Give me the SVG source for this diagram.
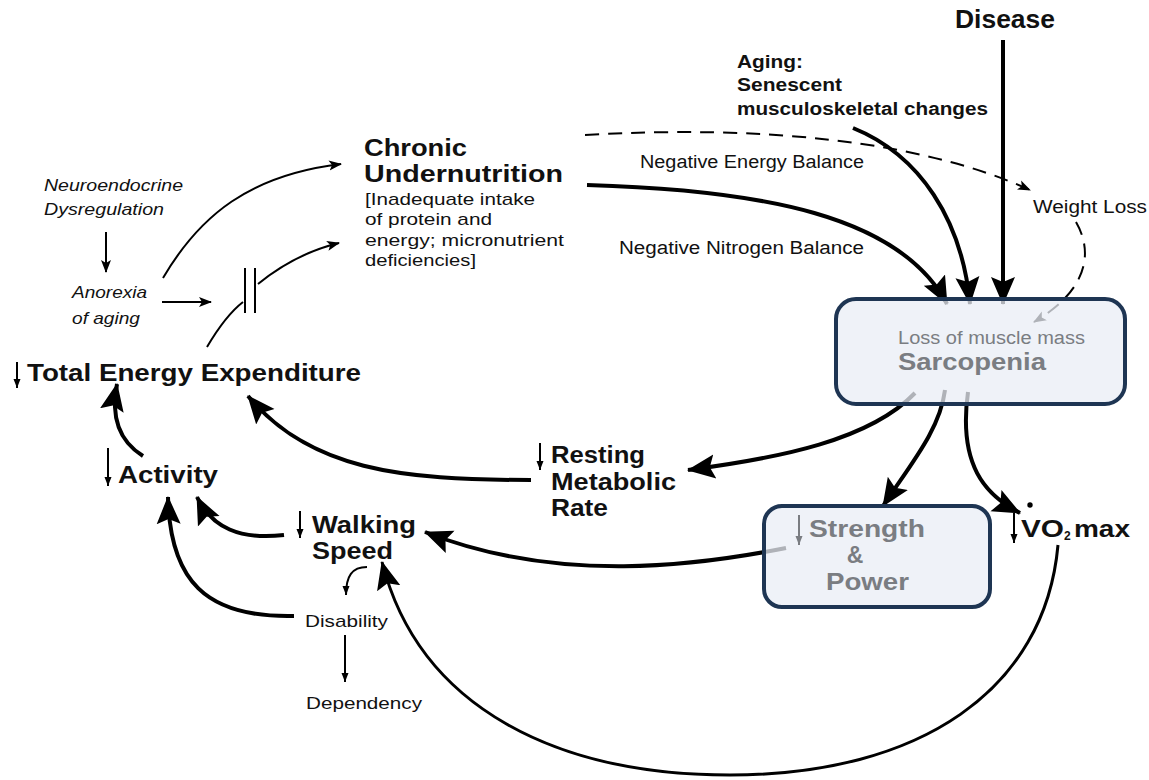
<svg xmlns="http://www.w3.org/2000/svg" width="1149" height="780" viewBox="0 0 1149 780">
<style>
.t{font-family:"Liberation Sans",Arial,sans-serif;fill:#111}
.b{font-weight:bold}
.i{font-style:italic}
.g{fill:#7a7d82}
.c{fill:none;stroke:#000;stroke-linecap:butt}
.w4{stroke-width:4}
.w3{stroke-width:3}
.w2{stroke-width:2}
.d{stroke-dasharray:14 9}
.box{fill:#e9eef5;fill-opacity:0.75;stroke:#1e3553;stroke-width:4}
</style>
<defs>
<marker id="big" markerUnits="userSpaceOnUse" markerWidth="30" markerHeight="30" viewBox="0 0 30 30" refX="27" refY="15" orient="auto"><path d="M0,3 L28,15 L0,27 L5,15 Z" fill="#000"/></marker>
<marker id="sm" markerUnits="userSpaceOnUse" markerWidth="14" markerHeight="14" viewBox="0 0 14 14" refX="12" refY="7" orient="auto"><path d="M0,2 L13,7 L0,12 L3,7 Z" fill="#000"/></marker>
<marker id="tiny" markerUnits="userSpaceOnUse" markerWidth="10" markerHeight="10" viewBox="0 0 10 10" refX="9" refY="5" orient="auto"><path d="M0,1.5 L9,5 L0,8.5 Z" fill="#000"/></marker>
<marker id="tinyg" markerUnits="userSpaceOnUse" markerWidth="10" markerHeight="10" viewBox="0 0 10 10" refX="9" refY="5" orient="auto"><path d="M0,1.5 L9,5 L0,8.5 Z" fill="#7a7d82"/></marker>
</defs>

<g id="connectors">
<path class="c w2" d="M106,232 L106,272" marker-end="url(#sm)"/>
<path class="c w2" d="M162,302 L211,302" marker-end="url(#sm)"/>
<path class="c w2" d="M163,278 C200,215 250,175 341,164" marker-end="url(#sm)"/>
<path class="c w2" d="M207,347 C220,325 230,312 243,302"/>
<path class="c w2" d="M258,284 C285,262 310,250 339,243" marker-end="url(#sm)"/>
<path class="c w2" d="M245,268 L245,313 M255,268 L255,313"/>
<path class="c w4" d="M587,185 C760,190 900,215 947,304" marker-end="url(#big)"/>
<path class="c w4" d="M853,128 C920,155 962,220 970,304" marker-end="url(#big)"/>
<path class="c w4" d="M1003,40 L1003,304" marker-end="url(#big)"/>
<path class="c w2 d" d="M585,135 C760,125 920,140 1030,190" marker-end="url(#sm)"/>
<path class="c w2 d" d="M1076,222 C1095,255 1085,292 1034,322" marker-end="url(#sm)"/>
<path class="c w4" d="M915,393 C870,440 780,458 688,470" marker-end="url(#big)"/>
<path class="c w4" d="M945,390 C940,430 910,465 883,506" marker-end="url(#big)"/>
<path class="c w4" d="M968,392 C958,465 985,495 1020,513" marker-end="url(#big)"/>
<path class="c w4" d="M786,548 C700,565 560,585 425,532" marker-end="url(#big)"/>
<path class="c w4" d="M531,480 C400,480 310,470 248,396" marker-end="url(#big)"/>
<path class="c w4" d="M143,456 C122,443 110,420 117,384" marker-end="url(#big)"/>
<path class="c w4" d="M284,535 C240,540 212,528 197,497" marker-end="url(#big)"/>
<path class="c w4" d="M294,616 C205,618 170,580 168,497" marker-end="url(#big)"/>
<path class="c w2" d="M367,567 C352,567 346,576 346,595" marker-end="url(#tiny)"/>
<path class="c w2" d="M345,635 L345,682" marker-end="url(#tiny)"/>
<path class="c w3" d="M1058,545 C1045,690 920,775 730,775 C560,775 420,710 382,562" marker-end="url(#big)"/>
</g>

<g id="disease"><text class="t b" x="955" y="28" font-size="25" textLength="100" lengthAdjust="spacingAndGlyphs">Disease</text></g>
<g id="aging">
<text class="t b" font-size="18"><tspan x="737" y="68" textLength="66" lengthAdjust="spacingAndGlyphs">Aging:</tspan><tspan x="737" y="91" textLength="105" lengthAdjust="spacingAndGlyphs">Senescent</tspan><tspan x="737" y="115" textLength="251" lengthAdjust="spacingAndGlyphs">musculoskeletal changes</tspan></text>
</g>
<g id="chronic">
<text class="t" font-size="17"><tspan class="b" font-size="23" x="364" y="156" textLength="103" lengthAdjust="spacingAndGlyphs">Chronic</tspan><tspan class="b" font-size="23" x="364" y="182" textLength="199" lengthAdjust="spacingAndGlyphs">Undernutrition</tspan><tspan x="365" y="205" textLength="170" lengthAdjust="spacingAndGlyphs">[Inadequate intake</tspan><tspan x="365" y="225" textLength="127" lengthAdjust="spacingAndGlyphs">of protein and</tspan><tspan x="365" y="246" textLength="199" lengthAdjust="spacingAndGlyphs">energy; micronutrient</tspan><tspan x="365" y="266" textLength="111" lengthAdjust="spacingAndGlyphs">deficiencies]</tspan></text>
</g>
<g id="neb"><text class="t" x="640" y="168" font-size="18" textLength="224" lengthAdjust="spacingAndGlyphs">Negative Energy Balance</text></g>
<g id="nnb"><text class="t" x="619" y="254" font-size="18" textLength="245" lengthAdjust="spacingAndGlyphs">Negative Nitrogen Balance</text></g>
<g id="weightloss"><text class="t" x="1033" y="213" font-size="18" textLength="114" lengthAdjust="spacingAndGlyphs">Weight Loss</text></g>
<g id="neuro">
<text class="t i" font-size="17"><tspan x="44" y="191" textLength="139" lengthAdjust="spacingAndGlyphs">Neuroendocrine</tspan><tspan x="44" y="215" textLength="120" lengthAdjust="spacingAndGlyphs">Dysregulation</tspan></text>
</g>
<g id="anorexia">
<text class="t i" font-size="17"><tspan x="72" y="298" textLength="75" lengthAdjust="spacingAndGlyphs">Anorexia</tspan><tspan x="72" y="324" textLength="68" lengthAdjust="spacingAndGlyphs">of aging</tspan></text>
</g>
<g id="tee">
<path class="c w2" d="M17,362 L17,388" marker-end="url(#tiny)"/>
<text class="t b" x="27" y="381" font-size="24" textLength="334" lengthAdjust="spacingAndGlyphs">Total Energy Expenditure</text>
</g>
<g id="activity">
<path class="c w2" d="M108,448 L108,486" marker-end="url(#tiny)"/>
<text class="t b" x="118" y="483" font-size="24" textLength="100" lengthAdjust="spacingAndGlyphs">Activity</text>
</g>
<g id="rmr">
<path class="c w2" d="M540,443 L540,470" marker-end="url(#tiny)"/>
<text class="t b" font-size="23"><tspan x="551" y="463" textLength="94" lengthAdjust="spacingAndGlyphs">Resting</tspan><tspan x="551" y="490" textLength="125" lengthAdjust="spacingAndGlyphs">Metabolic</tspan><tspan x="551" y="516" textLength="57" lengthAdjust="spacingAndGlyphs">Rate</tspan></text>
</g>
<g id="walking">
<path class="c w2" d="M300,511 L300,538" marker-end="url(#tiny)"/>
<text class="t b" font-size="23"><tspan x="312" y="533" textLength="104" lengthAdjust="spacingAndGlyphs">Walking</tspan><tspan x="312" y="559" textLength="81" lengthAdjust="spacingAndGlyphs">Speed</tspan></text>
</g>
<g id="disability"><text class="t" x="305" y="627" font-size="17" textLength="83" lengthAdjust="spacingAndGlyphs">Disability</text></g>
<g id="dependency"><text class="t" x="306" y="709" font-size="17" textLength="116" lengthAdjust="spacingAndGlyphs">Dependency</text></g>
<g id="vo2">
<path class="c w2" d="M1014,513 L1014,543" marker-end="url(#tiny)"/>
<circle cx="1030" cy="505" r="2.7" fill="#000"/>
<text class="t b" font-size="24"><tspan x="1021" y="537" textLength="43" lengthAdjust="spacingAndGlyphs">VO</tspan><tspan x="1064" y="540" font-size="12">2</tspan><tspan x="1074" y="537" textLength="56" lengthAdjust="spacingAndGlyphs">max</tspan></text>
</g>
<g id="sarcopenia">
<rect class="box" x="836" y="299" width="289" height="105" rx="20"/>
<text class="t g" font-size="18"><tspan x="898" y="344" textLength="187" lengthAdjust="spacingAndGlyphs">Loss of muscle mass</tspan><tspan class="b" font-size="24" x="898" y="370" textLength="148" lengthAdjust="spacingAndGlyphs">Sarcopenia</tspan></text>
</g>
<g id="strength">
<rect class="box" x="764" y="506" width="226" height="101" rx="18"/>
<path d="M799,515 L799,545" fill="none" stroke="#7a7d82" stroke-width="2" marker-end="url(#tinyg)"/>
<text class="t b g" font-size="23"><tspan x="809" y="537" textLength="116" lengthAdjust="spacingAndGlyphs">Strength</tspan><tspan x="855" y="563" text-anchor="middle">&amp;</tspan><tspan x="826" y="590" textLength="83" lengthAdjust="spacingAndGlyphs">Power</tspan></text>
</g>
</svg>
